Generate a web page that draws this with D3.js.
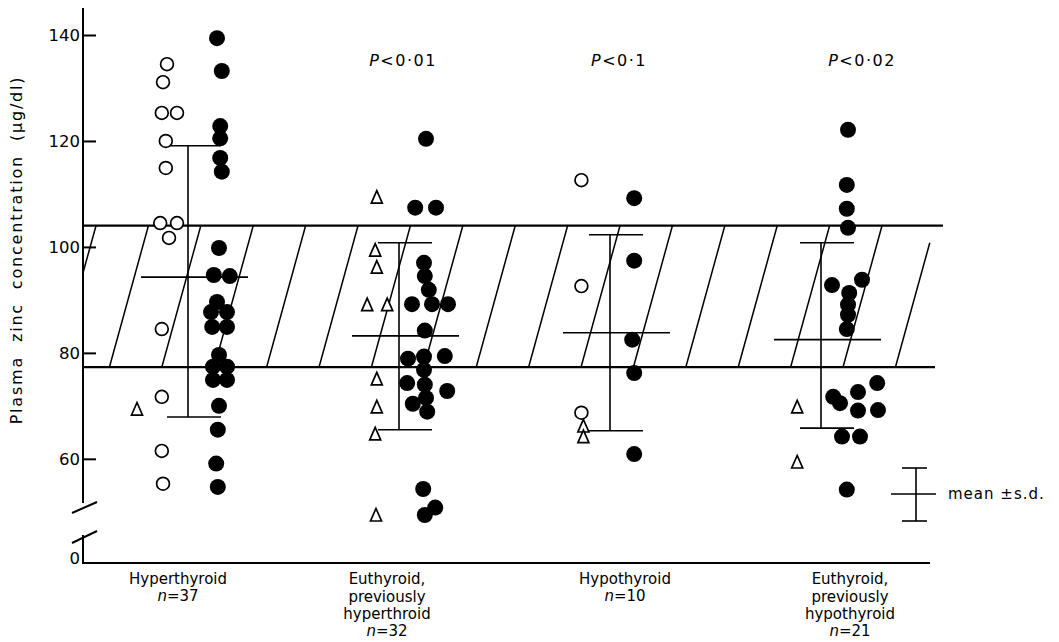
<!DOCTYPE html>
<html><head><meta charset="utf-8">
<script src="https://cdn.jsdelivr.net/npm/d3@7"></script>
<style>
html,body{margin:0;padding:0;background:#fff;}
svg{display:block;font-family:"DejaVu Sans",sans-serif;}
</style></head>
<body>
<svg id="chart" width="1059" height="642"></svg>
<script>
// ---------- data ----------
const categories = ["Hyperthyroid", "Euthyroid, previously hyperthroid", "Hypothyroid", "Euthyroid, previously hypothyroid"];
const categoryLines = [["Hyperthyroid"], ["Euthyroid,", "previously", "hyperthroid"], ["Hypothyroid"], ["Euthyroid,", "previously", "hypothyroid"]];
const nCounts = [37, 32, 10, 21];
const pLabels = ["", "P<0·01", "P<0·1", "P<0·02"];
const yTicks = [0, 60, 80, 100, 120, 140];
const normalRange = [77.3, 104];
const meanValues = [94.3, 83.2, 83.8, 82.5];
const sdUpper = [119.1, 100.8, 102.3, 100.8];
const sdLower = [67.9, 65.5, 65.3, 65.8];
// [group index, value (µg/dl), jitter lane]
const filledCircles = [
 [0,139.4,0],[0,133.2,0.6],[0,122.8,0.4],[0,120.5,0.4],[0,116.8,0.4],[0,114.2,0.6],[0,99.8,0.25],[0,94.7,-0.4],[0,94.5,1.6],
 [0,89.6,0],[0,87.7,-0.75],[0,87.7,1.25],[0,84.9,-0.6],[0,84.9,1.25],[0,79.6,0.25],[0,77.4,-0.5],[0,77.4,1.25],[0,74.9,-0.5],
 [0,74.9,1.25],[0,70,0.25],[0,65.5,0.1],[0,59.1,-0.1],[0,54.7,0.1],
 [1,120.4,-0.25],[1,107.4,-1.6],[1,107.4,1],[1,97,-0.5],[1,94.5,-0.4],[1,91.9,0.1],[1,89.2,-2],[1,89.2,0.5],[1,89.2,2.5],
 [1,84.2,-0.4],[1,79.4,2.1],[1,79.3,-0.5],[1,78.9,-2.5],[1,76.8,-0.5],[1,74.3,-2.6],[1,74,-0.4],[1,72.8,2.4],[1,71.5,-0.25],
 [1,70.4,-1.9],[1,68.9,-0.1],[1,54.3,-0.6],[1,50.8,0.9],[1,49.4,-0.4],
 [2,109.2,-0.6],[2,97.4,-0.6],[2,82.5,-0.85],[2,76.2,-0.6],[2,60.9,-0.6],
 [3,122.1,-0.25],[3,111.7,-0.4],[3,107.2,-0.4],[3,103.6,-0.25],[3,93.8,1.5],[3,92.8,-2.25],[3,91.3,-0.1],[3,89.1,-0.25],
 [3,87.2,-0.25],[3,84.5,-0.4],[3,74.3,3.4],[3,72.6,1],[3,71.7,-2.1],[3,70.5,-1.25],[3,69.2,3.5],[3,69.1,1],[3,64.2,-1],
 [3,64.2,1.25],[3,54.2,-0.4]
];
const openCircles = [
 [0,134.5,0.25],[0,131.1,-0.25],[0,125.3,-0.4],[0,125.3,1.5],[0,120,0.1],[0,114.9,0.1],[0,104.5,-0.6],[0,104.5,1.5],
 [0,101.7,0.5],[0,84.5,-0.4],[0,71.7,-0.4],[0,61.5,-0.4],[0,55.3,-0.25],
 [2,112.6,-0.7],[2,92.6,-0.7],[2,68.7,-0.7]
];
const triangles = [
 [0,69.4,-3.5],
 [1,109.4,0.1],[1,99.4,-0.1],[1,96.2,0.1],[1,89.1,-1.1],[1,89.1,1.4],[1,75.1,0.1],[1,69.8,0.1],[1,64.7,-0.1],[1,49.4,0],
 [2,66.2,-0.45],[2,64.2,-0.45],
 [3,69.8,-0.1],[3,59.4,-0.1]
];

// ---------- layout ----------
const svg = d3.select("#chart");
const axisX = 83, axisBottom = 563, axisTop = 8, axisRight = 930;
const x = d3.scalePoint().domain(d3.range(categories.length)).range([188, 821]);
const y = d3.scaleLinear().domain([0, 46, 140]).range([axisBottom, 533, 35]);
const lane = 8, leftOff = -23, rightOff = 29;
const ink = "#000";

// normal range band with hatching
const yT = y(normalRange[1]), yB = y(normalRange[0]);
svg.append("clipPath").attr("id","bandclip").append("rect")
  .attr("x", axisX).attr("y", yT - 2).attr("width", 900).attr("height", yB - yT + 4);
const hatch = svg.append("g").attr("clip-path","url(#bandclip)");
d3.range(0, 17).forEach(k => {
  const xt = 96 + k * 52.4;
  hatch.append("line").attr("x1", k === 16 ? xt - 4.6 : xt).attr("y1", k === 16 ? yT + 17 : yT)
    .attr("x2", xt - 39).attr("y2", yB)
    .attr("stroke", ink).attr("stroke-width", 1.5);
});
svg.append("line").attr("x1", axisX).attr("x2", 943).attr("y1", yT).attr("y2", yT).attr("stroke", ink).attr("stroke-width", 2.2);
svg.append("line").attr("x1", axisX).attr("x2", 935).attr("y1", yB).attr("y2", yB).attr("stroke", ink).attr("stroke-width", 2.2);

// axes
const ax = svg.append("g").attr("stroke", ink).attr("stroke-width", 2).attr("fill", "none");
ax.append("line").attr("x1", axisX).attr("x2", axisX).attr("y1", axisTop).attr("y2", 503);
ax.append("line").attr("x1", axisX).attr("x2", axisX).attr("y1", 535).attr("y2", axisBottom);
ax.append("line").attr("x1", 72).attr("y1", 513).attr("x2", 97).attr("y2", 502);
ax.append("line").attr("x1", 72).attr("y1", 543).attr("x2", 97).attr("y2", 531);
ax.append("line").attr("x1", axisX - 1).attr("x2", axisRight).attr("y1", axisBottom).attr("y2", axisBottom);

const yAxis = d3.axisRight(y).tickValues(yTicks.filter(t => t > 0)).tickSize(13).tickFormat("");
const yg = svg.append("g").attr("transform", `translate(${axisX},0)`).call(yAxis);
yg.select(".domain").remove();
yg.selectAll(".tick line").attr("stroke", ink).attr("stroke-width", 2);
svg.append("g").selectAll("text").data(yTicks).join("text")
  .attr("x", 80).attr("y", d => d === 0 ? y(d) - 5 : y(d))
  .attr("dy", "0.36em").attr("text-anchor", "end")
  .attr("font-size", 16.5).attr("fill", ink).text(d => d);

// y label
svg.append("text").attr("transform", "translate(22,250) rotate(-90)")
  .attr("text-anchor", "middle").attr("font-size", 16).attr("letter-spacing", 1.8).attr("word-spacing", 7)
  .attr("fill", ink).text("Plasma zinc concentration (µg/dl)");

// error bars
const eb = svg.append("g").attr("stroke", ink).attr("stroke-width", 1.6);
categories.forEach((c, i) => {
  const gx = x(i);
  eb.append("line").attr("x1", gx).attr("x2", gx).attr("y1", y(sdUpper[i])).attr("y2", y(sdLower[i]));
  eb.append("line").attr("x1", gx - 21).attr("x2", gx + 33).attr("y1", y(sdUpper[i])).attr("y2", y(sdUpper[i]));
  eb.append("line").attr("x1", gx - 21).attr("x2", gx + 33).attr("y1", y(sdLower[i])).attr("y2", y(sdLower[i]));
  eb.append("line").attr("x1", gx - 47).attr("x2", gx + 60).attr("y1", y(meanValues[i])).attr("y2", y(meanValues[i]));
});

// points
svg.append("g").selectAll("circle").data(filledCircles).join("circle")
  .attr("cx", d => x(d[0]) + rightOff + d[2] * lane).attr("cy", d => y(d[1]))
  .attr("r", 8).attr("fill", ink);
svg.append("g").selectAll("circle").data(openCircles).join("circle")
  .attr("cx", d => x(d[0]) + leftOff + d[2] * lane).attr("cy", d => y(d[1]))
  .attr("r", 6.4).attr("fill", "#fff").attr("stroke", ink).attr("stroke-width", 1.7);
svg.append("g").selectAll("path").data(triangles).join("path")
  .attr("transform", d => `translate(${x(d[0]) + leftOff + d[2] * lane},${y(d[1])})`)
  .attr("d", "M0,-6.5L5.5,6L-5.5,6Z")
  .attr("fill", "#fff").attr("stroke", ink).attr("stroke-width", 1.7).attr("stroke-linejoin", "miter");

// P labels
const pOff = [0, 4, 9, 41];
svg.append("g").selectAll("text").data(pLabels.map((p, i) => [p, i]).filter(d => d[0])).join("text")
  .attr("x", d => x(d[1]) + pOff[d[1]]).attr("y", 66).attr("text-anchor", "middle")
  .attr("font-size", 16).attr("letter-spacing", 1.5).attr("fill", ink)
  .each(function(d) {
    const t = d3.select(this);
    t.append("tspan").attr("font-style", "italic").text(d[0][0]);
    t.append("tspan").text(d[0].slice(1));
  });

// category labels
const labOff = [-10, -12, 15, 29];
categories.forEach((c, i) => {
  const lines = categoryLines[i];
  const cx = x(i) + labOff[i];
  const g = svg.append("g").attr("fill", ink).attr("font-size", 15).attr("text-anchor", "middle");
  lines.forEach((l, j) => g.append("text").attr("x", cx).attr("y", 584 + j * 17.5).text(l));
  const nt = g.append("text").attr("x", cx).attr("y", 584 + lines.length * 17.5 - 1);
  nt.append("tspan").attr("font-style", "italic").text("n");
  nt.append("tspan").text("=" + nCounts[i]);
});

// legend
const lg = svg.append("g").attr("stroke", ink).attr("stroke-width", 1.6);
const lx = 916, lyT = 468, lyB = 521, lyM = 494;
lg.append("line").attr("x1", lx).attr("x2", lx).attr("y1", lyT).attr("y2", lyB);
lg.append("line").attr("x1", lx - 14).attr("x2", lx + 11).attr("y1", lyT).attr("y2", lyT);
lg.append("line").attr("x1", lx - 14).attr("x2", lx + 11).attr("y1", lyB).attr("y2", lyB);
lg.append("line").attr("x1", lx - 25).attr("x2", lx + 20).attr("y1", lyM).attr("y2", lyM);
svg.append("text").attr("x", 948).attr("y", lyM).attr("dy", "0.35em").attr("font-size", 15).attr("letter-spacing", 1)
  .attr("fill", ink).text("mean ±s.d.");
</script>
</body></html>
